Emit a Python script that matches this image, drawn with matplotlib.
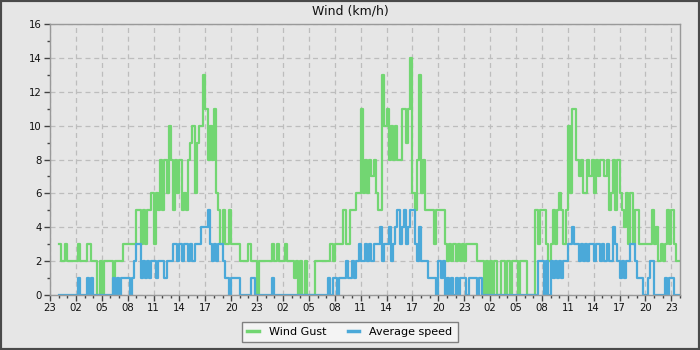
import numpy as np
import pandas as pd
import matplotlib
matplotlib.use("Agg")
import matplotlib.pyplot as plt
import matplotlib.dates as mdates
from matplotlib.ticker import MultipleLocator
from matplotlib.patches import Rectangle

# wind samples, one every 15 minutes, km/h
gust_day1 = [
    3, 2, 2, 3,  2, 2, 2, 2,  2, 3, 2, 2,
    2, 3, 3, 2,  2, 2, 0, 2,  0, 2, 2, 2,
    2, 0, 2, 2,  2, 2, 3, 3,  3, 3, 3, 3,
    5, 5, 3, 5,  3, 5, 5, 6,  3, 6, 5, 8,
    5, 8, 6, 10, 8, 5, 8, 6,  8, 5, 6, 5,
    8, 9, 10, 6, 9, 10, 10, 13, 11, 8, 10, 8,
    11, 6, 5, 3, 5, 3, 3, 5,  3, 3, 3, 3,
    2, 2, 2, 2,  3, 2, 2, 2,  0, 2, 2, 2,
]
gust_day2 = [
    2, 2, 2, 3,  2, 3, 2, 2,  2, 3, 2, 2,
    2, 1, 2, 0,  2, 0, 2, 0,  0, 0, 0, 2,
    2, 2, 2, 2,  2, 2, 3, 2,  3, 3, 3, 3,
    5, 3, 3, 5,  5, 5, 6, 6,  11, 6, 8, 6,
    8, 7, 8, 6,  5, 5, 13, 10, 11, 8, 10, 8,
    10, 8, 8, 11, 11, 9, 11, 14, 6, 5, 8, 13,
    6, 8, 5, 5,  5, 5, 3, 5,  5, 5, 5, 3,
    2, 3, 2, 3,  2, 3, 2, 3,  2, 3, 3, 3,
]
gust_day3 = [
    3, 3, 2, 2,  2, 0, 2, 0,  2, 0, 2, 0,
    0, 2, 2, 0,  2, 0, 2, 2,  2, 0, 2, 2,
    2, 0, 0, 0,  0, 5, 3, 5,  5, 5, 3, 2,
    3, 5, 3, 5,  6, 5, 3, 5,  10, 6, 11, 11,
    8, 7, 8, 6,  6, 8, 7, 8,  6, 8, 7, 8,
    8, 7, 8, 5,  6, 8, 5, 8,  6, 5, 4, 6,
    3, 6, 3, 5,  5, 3, 3, 3,  3, 3, 3, 5,
    3, 4, 2, 3,  2, 3, 5, 3,  5, 3, 2, 2,
]

avg_day1 = [
    0, 0, 0, 0,  0, 0, 0, 0,  0, 1, 0, 0,
    0, 1, 0, 1,  0, 0, 0, 0,  0, 0, 0, 0,
    0, 1, 0, 1,  0, 1, 1, 1,  1, 0, 1, 2,
    3, 3, 1, 2,  1, 2, 1, 2,  2, 1, 2, 2,
    2, 1, 2, 2,  2, 3, 3, 2,  3, 2, 3, 3,
    2, 3, 2, 3,  3, 3, 4, 4,  4, 5, 3, 2,
    3, 2, 3, 3,  2, 1, 1, 0,  1, 1, 1, 1,
    0, 0, 0, 0,  0, 1, 1, 0,  0, 0, 0, 0,
]
avg_day2 = [
    0, 0, 0, 1,  0, 0, 0, 0,  0, 0, 0, 0,
    0, 0, 0, 0,  0, 0, 0, 0,  0, 0, 0, 0,
    0, 0, 0, 0,  0, 1, 0, 1,  1, 0, 1, 1,
    1, 2, 1, 1,  2, 1, 2, 3,  2, 2, 3, 2,
    3, 2, 3, 3,  3, 4, 2, 3,  3, 4, 2, 3,
    4, 5, 3, 4,  5, 3, 4, 5,  5, 3, 2, 4,
    2, 2, 2, 1,  1, 1, 1, 0,  2, 1, 2, 0,
    1, 0, 1, 0,  1, 0, 1, 1,  1, 0, 1, 1,
]
avg_day3 = [
    1, 1, 0, 1,  0, 0, 0, 0,  0, 0, 0, 0,
    0, 0, 0, 0,  0, 0, 0, 0,  0, 0, 0, 0,
    0, 0, 0, 0,  0, 0, 2, 2,  2, 0, 2, 0,
    2, 1, 2, 1,  2, 1, 2, 2,  3, 3, 4, 3,
    3, 2, 3, 2,  3, 2, 3, 3,  2, 3, 3, 2,
    3, 2, 3, 2,  2, 4, 3, 2,  1, 2, 1, 2,
    2, 3, 3, 2,  1, 1, 1, 0,  0, 1, 2, 2,
    0, 0, 0, 0,  0, 1, 0, 1,  1, 0, 0, 0,
]

gust = gust_day1 + gust_day2 + gust_day3
avg = avg_day1 + avg_day2 + avg_day3

start = pd.Timestamp("2024-05-01 00:00")
times = pd.date_range(start, periods=len(gust) + 1, freq="15min")
gust_line = gust + [gust[-1]]
avg_line = avg + [avg[-1]]

green = "#72d672"
blue = "#4ba9d9"
bg = "#e6e6e6"

fig = plt.figure(figsize=(7, 3.5), dpi=100, facecolor=bg)
ax = fig.add_axes([50 / 700, 1 - 295 / 350, 630 / 700, 271 / 350], facecolor=bg)

ax.step(times, gust_line, where="post", color=green, lw=1.6, label="Wind Gust")
ax.step(times, avg_line, where="post", color=blue, lw=1.6, label="Average speed")

ax.set_xlim(start - pd.Timedelta(hours=1), start + pd.Timedelta(hours=72))
ax.set_ylim(0, 16)

ax.xaxis.set_major_locator(mdates.HourLocator(byhour=range(2, 24, 3)))
ax.xaxis.set_minor_locator(mdates.HourLocator())
ax.xaxis.set_major_formatter(mdates.DateFormatter("%H"))
ax.yaxis.set_major_locator(MultipleLocator(2))
ax.yaxis.set_minor_locator(MultipleLocator(1))

ax.tick_params(which="major", length=4, width=1, color="#444444",
               labelsize=7.3, labelcolor="#111111", pad=2)
ax.tick_params(which="minor", length=2.5, width=1, color="#444444")
ax.grid(True, which="major", color="#bdbdbd", lw=0.9, linestyle=(0, (4, 3)))
ax.set_axisbelow(True)
for sp in ax.spines.values():
    sp.set_color("#999999")
    sp.set_linewidth(1)

fig.text(0.5, 1 - 11 / 350, "Wind (km/h)", ha="center", va="center",
         fontsize=9, color="#111111")

leg = fig.legend(loc="lower center", bbox_to_anchor=(0.5, 0.008), ncol=2,
                 fontsize=8, frameon=True, fancybox=False, handlelength=1.0,
                 handletextpad=0.9, columnspacing=2.0, borderpad=0.45)
leg.get_frame().set_facecolor("#f4f4f4")
leg.get_frame().set_edgecolor("#808080")
leg.get_frame().set_linewidth(1)
leg.get_frame().set_alpha(1)
for line in leg.get_lines():
    line.set_linewidth(2.5)

fig.patches.append(Rectangle((0, 0), 1, 1, transform=fig.transFigure,
                             fill=False, edgecolor="#4a4a4a", lw=3))

fig.savefig("out.png", dpi=100, facecolor=bg)
